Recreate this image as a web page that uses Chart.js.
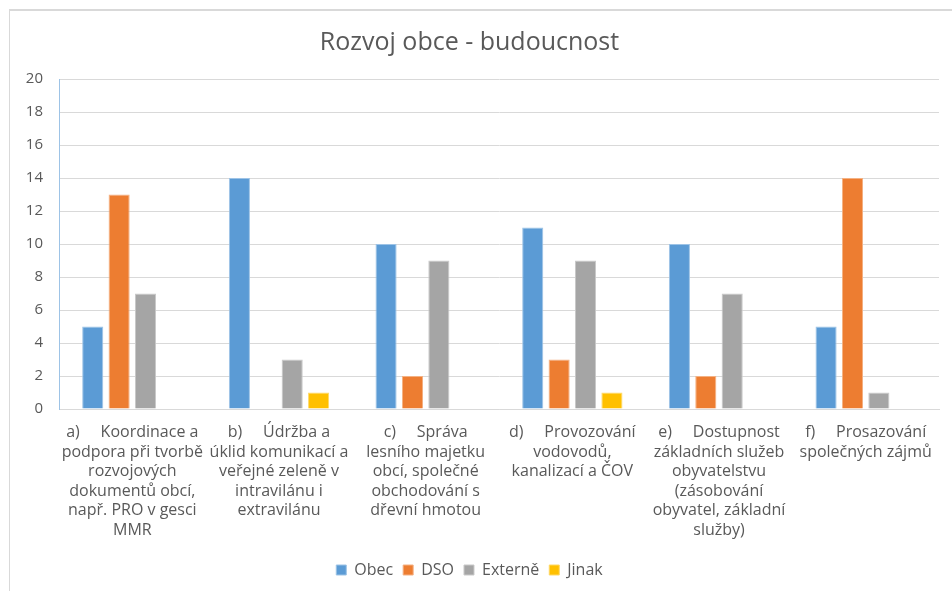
<!DOCTYPE html>
<html>
<head>
<meta charset="utf-8">
<script src="https://cdn.jsdelivr.net/npm/chart.js@4.4.1/dist/chart.umd.min.js"></script>
<style>
  html, body { margin: 0; padding: 0; background: #fff; overflow: hidden; }
  #frame { position: absolute; left: 9px; top: 9px; width: 1000px; height: 700px;
           border-left: 1px solid #d9d9d9; border-top: 2px solid #d9d9d9; }
  #wrap { position: absolute; left: 0; top: 0; width: 952px; height: 591px; }
</style>
</head>
<body>
<div id="frame"></div>
<div id="wrap"><canvas id="chart"></canvas></div>
<script>
// data
const categories = [
    ['a)     Koordinace a', 'podpora při tvorbě', 'rozvojových', 'dokumentů obcí,', 'např. PRO v gesci', 'MMR'],
    ['b)     Údržba a', 'úklid komunikací a', 'veřejné zeleně v', 'intravilánu i', 'extravilánu'],
    ['c)     Správa', 'lesního majetku', 'obcí, společné', 'obchodování s', 'dřevní hmotou'],
    ['d)     Provozování', 'vodovodů,', 'kanalizací a ČOV'],
    ['e)     Dostupnost', 'základních služeb', 'obyvatelstvu', '(zásobování', 'obyvatel, základní', 'služby)'],
    ['f)     Prosazování', 'společných zájmů']
];
const obec    = [5, 14, 10, 11, 10, 5];
const dso     = [13, 0, 2, 3, 2, 14];
const externe = [7, 3, 9, 9, 7, 1];
const jinak   = [0, 1, 0, 1, 0, 0];

const textColor = '#595959';
const font = '"Open Sans", Lato, sans-serif';

function ds(label, data, color, edge) {
    return {
        label: label,
        data: data,
        backgroundColor: color,
        borderColor: edge,
        borderWidth: 1,
        categoryPercentage: 0.72,
        barPercentage: 0.8
    };
}

new Chart(document.getElementById('chart').getContext('2d'), {
    type: 'bar',
    data: {
        labels: categories,
        datasets: [
            ds('Obec', obec, '#5B9BD5', '#9DC3E6'),
            ds('DSO', dso, '#ED7D31', '#F4B183'),
            ds('Externě', externe, '#A5A5A5', '#C9C9C9'),
            ds('Jinak', jinak, '#FFC000', '#FFD966')
        ]
    },
    options: {
        responsive: true,
        maintainAspectRatio: false,
        animation: false,
        layout: { padding: { left: 0, right: 13, top: 0, bottom: 3 } },
        plugins: {
            title: {
                display: true,
                text: 'Rozvoj obce - budoucnost',
                color: textColor,
                font: { family: font, size: 25, weight: 'normal' },
                padding: { top: 28, bottom: 21 }
            },
            legend: {
                position: 'bottom',
                labels: {
                    color: textColor,
                    font: { family: font, size: 16 },
                    boxWidth: 10,
                    boxHeight: 10,
                    padding: 10
                }
            },
            tooltip: { enabled: false }
        },
        scales: {
            x: {
                grid: { display: false, drawTicks: false },
                border: { display: true, color: '#d9d9d9' },
                ticks: {
                    color: textColor,
                    font: { family: font, size: 16, lineHeight: '19.5px' },
                    autoSkip: false,
                    maxRotation: 0,
                    padding: 14
                },
                afterFit: function(scale) { scale.height = 143; }
            },
            y: {
                min: 0,
                max: 20,
                ticks: {
                    stepSize: 2,
                    color: textColor,
                    font: { family: font, size: 15 },
                    padding: 16
                },
                grid: { color: '#d9d9d9', drawTicks: false },
                border: { display: true, color: '#9DC3E6' },
                afterFit: function(scale) { scale.width = 59; }
            }
        }
    }
});
</script>
</body>
</html>
